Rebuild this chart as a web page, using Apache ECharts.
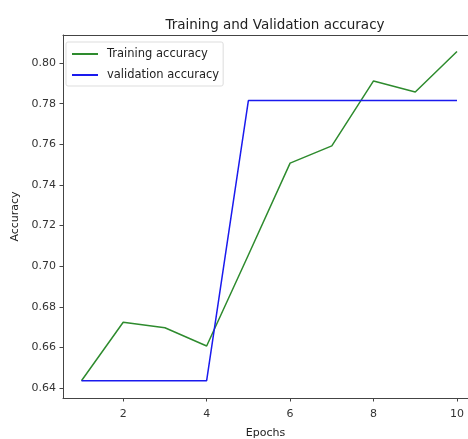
<!DOCTYPE html>
<html>
<head>
<meta charset="utf-8">
<script src="https://cdn.jsdelivr.net/npm/echarts@6/dist/echarts.min.js"></script>
<style>html,body{margin:0;padding:0;background:#fff;}#c{width:468px;height:439px;}</style>
</head>
<body>
<div id="c"></div>
<script>
const epochs = [1, 2, 3, 4, 5, 6, 7, 8, 9, 10];
const trainingAcc = [0.6436, 0.6724, 0.6697, 0.6607, 0.7055, 0.7507, 0.7592, 0.7912, 0.7857, 0.8057];
const validationAcc = [0.6436, 0.6436, 0.6436, 0.6436, 0.7815, 0.7815, 0.7815, 0.7815, 0.7815, 0.7815];
const xTicks = [2, 4, 6, 8, 10];
const yTicks = [0.64, 0.66, 0.68, 0.70, 0.72, 0.74, 0.76, 0.78, 0.80];

const chart = echarts.init(document.getElementById('c'), null, {renderer: 'canvas'});
const font = 'DejaVu Sans';
chart.setOption({
  animation: false,
  backgroundColor: '#fff',
  title: {
    text: 'Training and Validation accuracy',
    left: 270, top: 13, textAlign: 'center',
    textStyle: {fontFamily: font, fontSize: 13.5, fontWeight: 'normal', color: '#222'}
  },
  grid: {left: 63, top: 35, right: 0, height: 363, show: false, containLabel: false, outerBoundsMode: 'none'},
  legend: {
    left: 66, top: 42, orient: 'vertical',
    backgroundColor: '#fff', borderColor: '#ddd', borderWidth: 1, borderRadius: 2,
    padding: [6, 4, 5, 6], itemGap: 9,
    icon: 'rect', itemWidth: 26, itemHeight: 2,
    textStyle: {fontFamily: font, fontSize: 11.5, color: '#222', padding: [0, 0, 0, 4]},
    data: ['Training accuracy', 'validation accuracy']
  },
  xAxis: [{
    type: 'value', min: 0.557, max: 10.264,
    name: 'Epochs', nameLocation: 'middle', nameGap: 30,
    nameTextStyle: {fontFamily: font, fontSize: 11, color: '#222'},
    axisLine: {show: true, lineStyle: {color: '#444'}},
    axisTick: {show: true, inside: false, length: 3.5, customValues: xTicks, lineStyle: {color: '#444'}},
    axisLabel: {customValues: xTicks, fontFamily: font, fontSize: 11, color: '#333', margin: 11},
    splitLine: {show: false}
  }, {
    type: 'value', position: 'top', min: 0.557, max: 10.264,
    axisLine: {show: true, lineStyle: {color: '#444'}},
    axisTick: {show: false}, axisLabel: {show: false}, splitLine: {show: false}
  }],
  yAxis: {
    type: 'value', min: 0.6351, max: 0.8138,
    name: 'Accuracy', nameLocation: 'middle', nameGap: 37, nameRotate: 90,
    nameTextStyle: {fontFamily: font, fontSize: 11, color: '#222'},
    axisLine: {show: true, lineStyle: {color: '#444'}},
    axisTick: {show: true, inside: false, length: 3.5, customValues: yTicks, lineStyle: {color: '#444'}},
    axisLabel: {customValues: yTicks, fontFamily: font, fontSize: 11, color: '#333', margin: 7,
      formatter: v => v.toFixed(2)},
    splitLine: {show: false}
  },
  series: [
    {name: 'Training accuracy', type: 'line', symbol: 'none', color: '#2e8b2e',
      lineStyle: {width: 1.5, color: '#2e8b2e'},
      data: epochs.map((e, i) => [e, trainingAcc[i]])},
    {name: 'validation accuracy', type: 'line', symbol: 'none', color: '#1a1aee',
      lineStyle: {width: 1.5, color: '#1a1aee'},
      data: epochs.map((e, i) => [e, validationAcc[i]])}
  ]
});
</script>
</body>
</html>
